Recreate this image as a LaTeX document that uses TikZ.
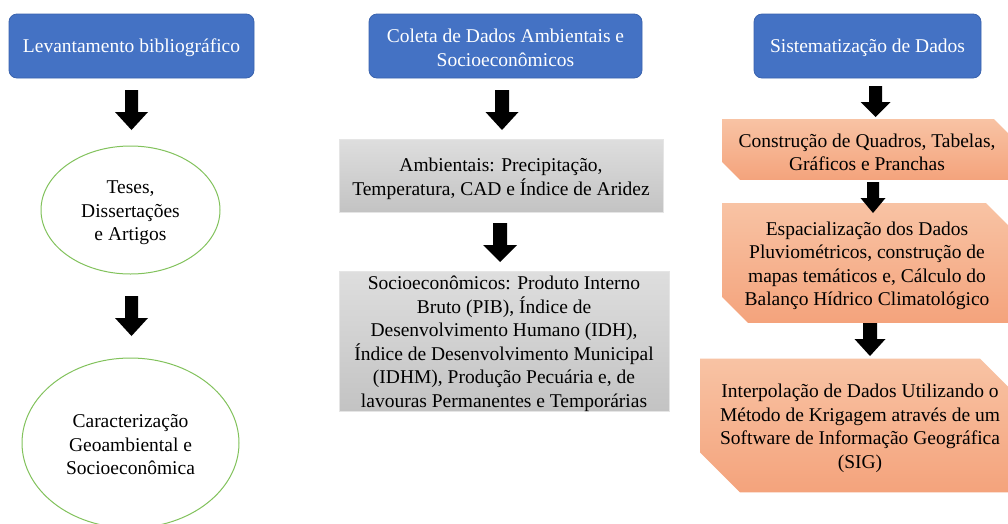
\documentclass[tikz,border=0pt]{standalone}
\usepackage{fontspec}
\setmainfont{Liberation Serif}
\newfontfamily\tnr{Liberation Serif}
\usetikzlibrary{shapes.geometric,shapes.misc}
\definecolor{hdrblue}{HTML}{4472C4}
\definecolor{hdrline}{HTML}{3A63AE}
\definecolor{ellgreen}{HTML}{82C25C}
\definecolor{graytop}{HTML}{DEDEDE}
\definecolor{graybot}{HTML}{C3C3C3}
\definecolor{ortop}{HTML}{F8C3A4}
\definecolor{orbot}{HTML}{F4A37C}
\newcommand\blkarrow[6]{% cx, top, headtop, bottom, shafthalf, headhalf
  \fill[black] ({#1-#5},#2) -- ({#1+#5},#2) -- ({#1+#5},#3) -- ({#1+#6},#3) -- (#1,#4) -- ({#1-#6},#3) -- ({#1-#5},#3) -- cycle;}
\newcommand\topstrut{\rule{0pt}{19pt}}
\begin{document}
\begin{tikzpicture}[x=1pt,y=-1pt,
  txt/.style={font=\tnr\fontsize{19.5}{23.5}\selectfont, align=center, inner sep=0pt},
  hdr/.style={rectangle, rounded corners=8pt, fill=hdrblue, draw=hdrline, line width=0.8pt, inner sep=0pt},
  hdrtxt/.style={txt, text=white},
  ell/.style={ellipse, draw=ellgreen, line width=1pt, fill=white, inner sep=0pt},
  graybox/.style={rectangle, top color=graytop, bottom color=graybot, draw=graytop!80!white, line width=0.6pt, inner sep=0pt},
  orbox/.style={txt, chamfered rectangle, chamfered rectangle corners={north east,south west}, top color=ortop, bottom color=orbot, draw=none}
]
\useasboundingbox (0,0) rectangle (1008,523);
\fill[white] (0,0) rectangle (1008,523);
\clip (0,0) rectangle (1008,523);
% left column
\node[hdr, minimum width=245pt, minimum height=64pt] (lhdr) at (131.5,46) {};
\node[hdrtxt] (lhdrt) at ([yshift=-2pt]lhdr.center) {Levantamento bibliográfico};
\node[ell, minimum width=179pt, minimum height=128pt] (teses) at (130.5,210) {};
\node[txt] (tesest) at ([yshift=-3pt]teses.center) {Teses,\\Dissertações\\e Artigos};
\node[ell, minimum width=217pt, minimum height=170pt] (carac) at (130.5,443) {};
\node[txt] (caract) at ([yshift=-2pt]carac.center) {Caracterização\\Geoambiental e\\Socioeconômica};
% middle column
\node[hdr, minimum width=273pt, minimum height=64pt] (mhdr) at (505.5,46) {};
\node[hdrtxt] (mhdrt) at ([yshift=-2pt]mhdr.center) {Coleta de Dados Ambientais e\\Socioeconômicos};
\node[graybox, minimum width=324pt, minimum height=73pt] (amb) at (501,175.5) {};
\node[txt] (ambt) at ([yshift=-3.5pt]amb.center) {Ambientais: Precipitação,\\Temperatura, CAD e Índice de Aridez};
\node[graybox, minimum width=330pt, minimum height=140pt] (socio) at (504,341) {};
\node[txt] (sociot) at ([yshift=-3pt]socio.center) {Socioeconômicos: Produto Interno\\Bruto (PIB), Índice de\\Desenvolvimento Humano (IDH),\\Índice de Desenvolvimento Municipal\\(IDHM), Produção Pecuária e, de\\lavouras Permanentes e Temporárias};
% right column
\node[hdr, minimum width=227pt, minimum height=64pt] (rhdr) at (867.5,46) {};
\node[hdrtxt] (rhdrt) at ([yshift=-2pt]rhdr.center) {Sistematização de Dados};
\node[orbox, minimum width=290pt, minimum height=53pt, chamfered rectangle xsep=9pt, chamfered rectangle ysep=9pt] (quad) at (867,149.5) {\topstrut Construção de Quadros, Tabelas,\\Gráficos e Pranchas};
\node[orbox, minimum width=290pt, minimum height=90pt, chamfered rectangle xsep=13pt, chamfered rectangle ysep=13pt] (esp) at (867,263) {\topstrut Espacialização dos Dados\\Pluviométricos, construção de\\mapas temáticos e, Cálculo do\\Balanço Hídrico Climatológico};
\node[orbox, minimum width=320pt, minimum height=125pt, chamfered rectangle xsep=20pt, chamfered rectangle ysep=20pt] (interp) at (860,425.5) {\topstrut Interpolação de Dados Utilizando o\\Método de Krigagem através de um\\Software de Informação Geográfica\\(SIG)};
% block arrows
\blkarrow{131.5}{90}{112}{130}{6.5}{16.5}
\blkarrow{131.5}{296}{318}{336}{6.5}{16.5}
\blkarrow{502}{90}{112}{130}{7}{16.5}
\blkarrow{500}{223}{245}{262}{7}{17}
\blkarrow{875.5}{86}{102}{117}{6.5}{15}
\blkarrow{873}{182}{198}{213}{6}{12.5}
\blkarrow{870}{323}{339}{356}{7}{15.5}
\end{tikzpicture}
\end{document}
